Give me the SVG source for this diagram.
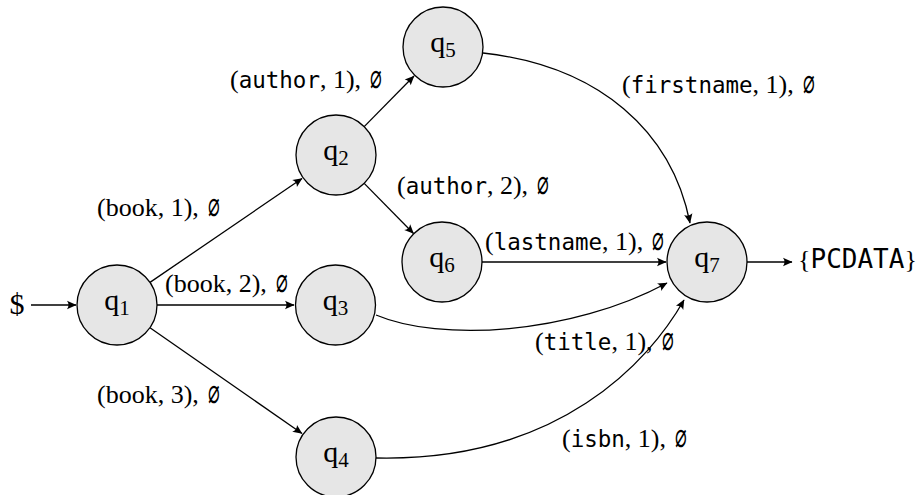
<svg xmlns="http://www.w3.org/2000/svg" width="922" height="495" viewBox="0 0 922 495">
<style>
.node circle{fill:#e6e6e6;stroke:#000;stroke-width:1.3}
.ql{font-family:"Liberation Serif","DejaVu Serif",serif;font-size:30px;text-anchor:middle;fill:#000}
.sub{font-size:21px}
.edge{fill:none;stroke:#000;stroke-width:1.3;marker-end:url(#arr)}
.lab{font-family:"Liberation Serif","DejaVu Serif",serif;font-size:26px;fill:#000}
.tt{font-family:"DejaVu Sans Mono",monospace;font-size:22.5px}
.em{font-family:"DejaVu Sans Mono",monospace;font-size:23px;text-anchor:middle;fill:#000}
</style>
<defs>
<marker id="arr" markerUnits="userSpaceOnUse" markerWidth="14" markerHeight="12" refX="0" refY="0" viewBox="-11 -6 13 12" orient="auto">
<path d="M0.5,0 L-9,-4.2 Q-6,0 -9,4.2 Z" fill="#000"/>
</marker>
</defs>
<g id="connectors">
<path class="edge" d="M31,305 L76,305"/>
<path class="edge" d="M150,282.4 L302,178.5"/>
<path class="edge" d="M157,305 L294,305"/>
<path class="edge" d="M150,327.8 L302,433.5"/>
<path class="edge" d="M364.2,126.6 L414,76"/>
<path class="edge" d="M364.2,183.4 L413.5,233.5"/>
<path class="edge" d="M482,262 L666,262"/>
<path class="edge" d="M747,262 L792,262"/>
<path class="edge" d="M483,53 C600,66 672,132 690,223"/>
<path class="edge" d="M376,315 C440,342 570,335 667,283"/>
<path class="edge" d="M376,458 C560,462 650,360 684,300"/>
</g>
<g id="q1" class="node"><circle cx="117" cy="305" r="40"/><text class="ql" x="117" y="310">q<tspan class="sub" dy="5">1</tspan></text></g>
<g id="q2" class="node"><circle cx="336" cy="155" r="40"/><text class="ql" x="336" y="160">q<tspan class="sub" dy="5">2</tspan></text></g>
<g id="q3" class="node"><circle cx="335.5" cy="305" r="40"/><text class="ql" x="335.5" y="310">q<tspan class="sub" dy="5">3</tspan></text></g>
<g id="q4" class="node"><circle cx="336" cy="457" r="40"/><text class="ql" x="336" y="462">q<tspan class="sub" dy="5">4</tspan></text></g>
<g id="q5" class="node"><circle cx="443" cy="47" r="40"/><text class="ql" x="443" y="52">q<tspan class="sub" dy="5">5</tspan></text></g>
<g id="q6" class="node"><circle cx="442" cy="262" r="40"/><text class="ql" x="442" y="267">q<tspan class="sub" dy="5">6</tspan></text></g>
<g id="q7" class="node"><circle cx="707" cy="262" r="40"/><text class="ql" x="707" y="267">q<tspan class="sub" dy="5">7</tspan></text></g>
<g id="start"><text class="ql" x="17" y="314">$</text></g>
<g id="labels">
<text class="lab" x="97" y="216">(book, 1),</text>
<text class="em" transform="translate(214,218) scale(0.85,1.45)">∅</text>
<text class="lab" x="165" y="292">(book, 2),</text>
<text class="em" transform="translate(282,294) scale(0.85,1.45)">∅</text>
<text class="lab" x="97" y="403">(book, 3),</text>
<text class="em" transform="translate(214,405) scale(0.85,1.45)">∅</text>
<text class="lab" x="230" y="88">(<tspan class="tt">author</tspan>, 1),</text>
<text class="em" transform="translate(376,90) scale(0.85,1.45)">∅</text>
<text class="lab" x="397" y="194">(<tspan class="tt">author</tspan>, 2),</text>
<text class="em" transform="translate(543,196) scale(0.85,1.45)">∅</text>
<text class="lab" x="485" y="250">(<tspan class="tt">lastname</tspan>, 1),</text>
<text class="em" transform="translate(658,252) scale(0.85,1.45)">∅</text>
<text class="lab" x="622" y="93">(<tspan class="tt">firstname</tspan>, 1),</text>
<text class="em" transform="translate(809,95) scale(0.85,1.45)">∅</text>
<text class="lab" x="535" y="350">(<tspan class="tt">title</tspan>, 1),</text>
<text class="em" transform="translate(668,352) scale(0.85,1.45)">∅</text>
<text class="lab" x="562" y="447">(<tspan class="tt">isbn</tspan>, 1),</text>
<text class="em" transform="translate(681,449) scale(0.85,1.45)">∅</text>
<text class="lab" x="798" y="268">{<tspan class="tt" style="font-size:26px">PCDATA</tspan>}</text>
</g>
</svg>
